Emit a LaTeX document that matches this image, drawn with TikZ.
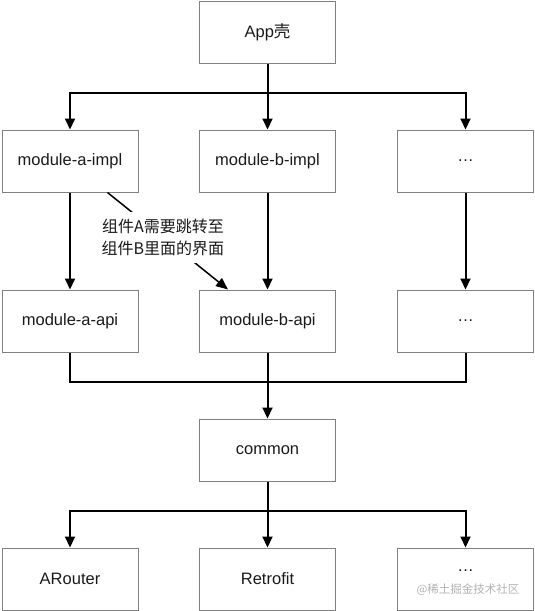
\documentclass[tikz,border=0pt]{standalone}
\usepackage{fontspec}
\setmainfont{Liberation Sans}
\newfontfamily\cjk{Noto Sans CJK SC}
\usetikzlibrary{arrows.meta}
\definecolor{boxgray}{HTML}{808080}
\definecolor{txt}{HTML}{1A1A1A}
\tikzset{
  box/.style={draw=boxgray, line width=1pt, minimum width=136pt, minimum height=62pt,
    inner sep=0pt, text=txt, font=\fontsize{16.5}{20}\selectfont},
  conn/.style={line width=2pt, draw=black},
  arr/.style={conn, -{Triangle[length=11pt,width=10pt]}},
  note/.style={fill=white, inner sep=7pt, align=center, text=txt,
    font=\cjk\fontsize{16}{22}\selectfont}
}
\begin{document}
\begin{tikzpicture}[x=1pt,y=-1pt]
\useasboundingbox (0,0) rectangle (535,611);
% boxes
\node[box] (app) at (267.5,32.5) {App{\cjk 壳}};
\node[box] (a1) at (70,161) {module-a-impl};
\node[box] (b1) at (267.5,161) {module-b-impl};
\node[box] (c1) at (465.5,161) {…};
\node[box] (a2) at (70,321) {module-a-api};
\node[box] (b2) at (267.5,321) {module-b-api};
\node[box] (c2) at (465.5,321) {…};
\node[box] (common) at (267.5,450) {common};
\node[box] (a3) at (70,579) {ARouter};
\node[box] (b3) at (267.5,579) {Retrofit};
\node[box] (c3) at (465.5,579) {};
\node[text=txt, font=\fontsize{16.5}{20}\selectfont] (c3dots) at (465.5,571) {…};
\node[text=black!30, font=\cjk\fontsize{11.5}{14}\selectfont] (wm) at (468,590) {@稀土掘金技术社区};
% buses
\coordinate (bus1) at (267.5,93);
\coordinate (bus2) at (267.5,382);
\coordinate (bus3) at (267.5,511);
% App -> row 2
\draw[conn] (app.south) -- (bus1);
\draw[arr] (bus1) -| (a1.north);
\draw[arr] (bus1) -- (b1.north);
\draw[arr] (bus1) -| (c1.north);
% row 2 -> row 3
\draw[arr] (a1.south) -- (a2.north);
\draw[arr] (b1.south) -- (b2.north);
\draw[arr] (c1.south) -- (c2.north);
% row 3 -> common
\draw[conn] (a2.south) |- (bus2) -| (c2.south);
\draw[conn] (b2.south) -- (bus2);
\draw[arr] (bus2) -- (common.north);
% common -> row 5
\draw[conn] (common.south) -- (bus3);
\draw[arr] (bus3) -| (a3.north);
\draw[arr] (bus3) -- (b3.north);
\draw[arr] (bus3) -| (c3.north);
% note arrow
\draw[line width=1.5pt, -{Triangle[length=12pt,width=10pt]}]
  ([xshift=-31pt]a1.south east) -- node[note, pos=0.46] (lbl) {组件A需要跳转至\\组件B里面的界面}
  ([xshift=29pt]b2.north west);
\end{tikzpicture}
\end{document}
